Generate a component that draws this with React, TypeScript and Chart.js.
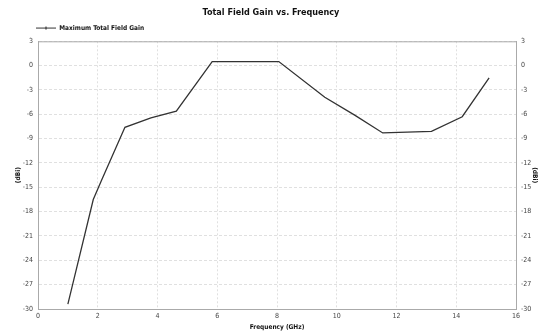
import React, { useEffect, useRef } from "react";
import { Chart, registerables } from "chart.js";

Chart.register(...registerables);

const frequencyGHz = [1.0, 1.85, 2.12, 2.91, 3.78, 4.63, 5.83, 8.06, 9.6, 10.6, 11.54, 13.17, 14.2, 15.1];
const gainDbi = [-29.4, -16.5, -14.2, -7.6, -6.45, -5.6, 0.5, 0.5, -3.9, -6.1, -8.3, -8.1, -6.3, -1.5];
const yTicks = [3, 0, -3, -6, -9, -12, -15, -18, -21, -24, -27, -30];
const seriesName = "Maximum Total Field Gain";
const chartTitle = "Total Field Gain vs. Frequency";
const xTitle = "Frequency (GHz)";
const yTitle = "(dBi)";

const FONT = "'DejaVu Sans Condensed', 'DejaVu Sans', sans-serif";

function makeLegendIcon(): HTMLCanvasElement {
  const c = document.createElement("canvas");
  c.width = 20;
  c.height = 5;
  const ctx = c.getContext("2d")!;
  ctx.strokeStyle = "#333";
  ctx.lineWidth = 1;
  ctx.beginPath();
  ctx.moveTo(0, 2.5);
  ctx.lineTo(20, 2.5);
  ctx.stroke();
  ctx.fillStyle = "#333";
  ctx.beginPath();
  ctx.arc(10, 2.5, 1.2, 0, Math.PI * 2);
  ctx.fill();
  return c;
}

export default function App() {
  const ref = useRef<HTMLCanvasElement | null>(null);
  useEffect(() => {
    if (!ref.current) return;
    const icon = makeLegendIcon();
    const points = frequencyGHz.map((x, i) => ({ x, y: gainDbi[i] }));
    const tickFont = { family: FONT, size: 7 };
    const chart = new Chart(ref.current, {
      type: "line",
      data: {
        datasets: [
          {
            label: seriesName,
            data: points,
            borderColor: "#333",
            backgroundColor: "#333",
            borderWidth: 1.3,
            pointRadius: 0,
            pointHoverRadius: 0,
            tension: 0,
            yAxisID: "y",
          },
        ],
      },
      options: {
        animation: false,
        responsive: false,
        maintainAspectRatio: false,
        layout: { padding: { top: 1, left: 0, right: 0, bottom: 0 } },
        plugins: {
          title: {
            display: true,
            text: chartTitle,
            color: "#111",
            font: { family: FONT, size: 9, weight: "bold" },
            padding: { top: 6, bottom: 2 },
          },
          legend: {
            display: true,
            align: "start",
            labels: {
              usePointStyle: true,
              pointStyle: icon as any,
              pointStyleWidth: 20,
              boxHeight: 5,
              color: "#111",
              font: { family: FONT, size: 6.5, weight: "bold" },
              padding: 5,
            },
          },
          tooltip: { enabled: false },
        },
        scales: {
          x: {
            type: "linear",
            min: 0,
            max: 16,
            ticks: { stepSize: 2, color: "#444", font: tickFont, padding: 3, maxRotation: 0 },
            grid: { color: "#e0e0e0", drawTicks: false } as any,
            border: { color: "#aaa", dash: [2, 2] } as any,
            title: {
              display: true,
              text: xTitle,
              color: "#111",
              font: { family: FONT, size: 6.5, weight: "bold" },
              padding: { top: -1, bottom: 0 },
            },
            afterFit: (s: any) => {
              s.height = 22;
            },
          },
          y: {
            type: "linear",
            position: "left",
            min: -30,
            max: 3,
            afterBuildTicks: (s: any) => {
              s.ticks = yTicks.map((v) => ({ value: v }));
            },
            ticks: { color: "#444", font: tickFont, padding: 5 },
            grid: { color: "#e0e0e0", drawTicks: false } as any,
            border: { color: "#aaa", dash: [3, 2] } as any,
            title: {
              display: true,
              text: yTitle,
              color: "#111",
              font: { family: FONT, size: 6.5, weight: "bold" },
              padding: { top: 14, bottom: 0 },
            },
            afterFit: (s: any) => {
              s.width = 38;
            },
          },
          y2: {
            type: "linear",
            position: "right",
            min: -30,
            max: 3,
            afterBuildTicks: (s: any) => {
              s.ticks = yTicks.map((v) => ({ value: v }));
            },
            ticks: { color: "#444", font: tickFont, padding: 5 },
            grid: { display: false, drawTicks: false } as any,
            border: { color: "#aaa" } as any,
            title: {
              display: true,
              text: yTitle,
              color: "#111",
              font: { family: FONT, size: 6.5, weight: "bold" },
              padding: { top: 3, bottom: 0 },
            },
            afterFit: (s: any) => {
              s.width = 26;
            },
          },
        },
      },
      plugins: [
        {
          id: "shiftLegend",
          afterLayout: (c: any) => {
            const lg = c.legend;
            if (lg) {
              lg.left += 31;
              lg.right += 31;
            }
          },
        },
        {
          id: "topBorder",
          afterDraw: (c: any) => {
            const { ctx, chartArea } = c;
            ctx.save();
            ctx.strokeStyle = "#aaa";
            ctx.lineWidth = 1;
            ctx.beginPath();
            ctx.moveTo(chartArea.left, chartArea.top + 0.5);
            ctx.lineTo(chartArea.right, chartArea.top + 0.5);
            ctx.stroke();
            ctx.restore();
          },
        },
      ],
    } as any);
    return () => chart.destroy();
  }, []);
  return (
    <div style={{ position: "fixed", left: 0, top: 0, width: 542, height: 331, background: "#fff" }}>
      <canvas ref={ref} width={542} height={331} style={{ width: 542, height: 331, display: "block" }} />
    </div>
  );
}
